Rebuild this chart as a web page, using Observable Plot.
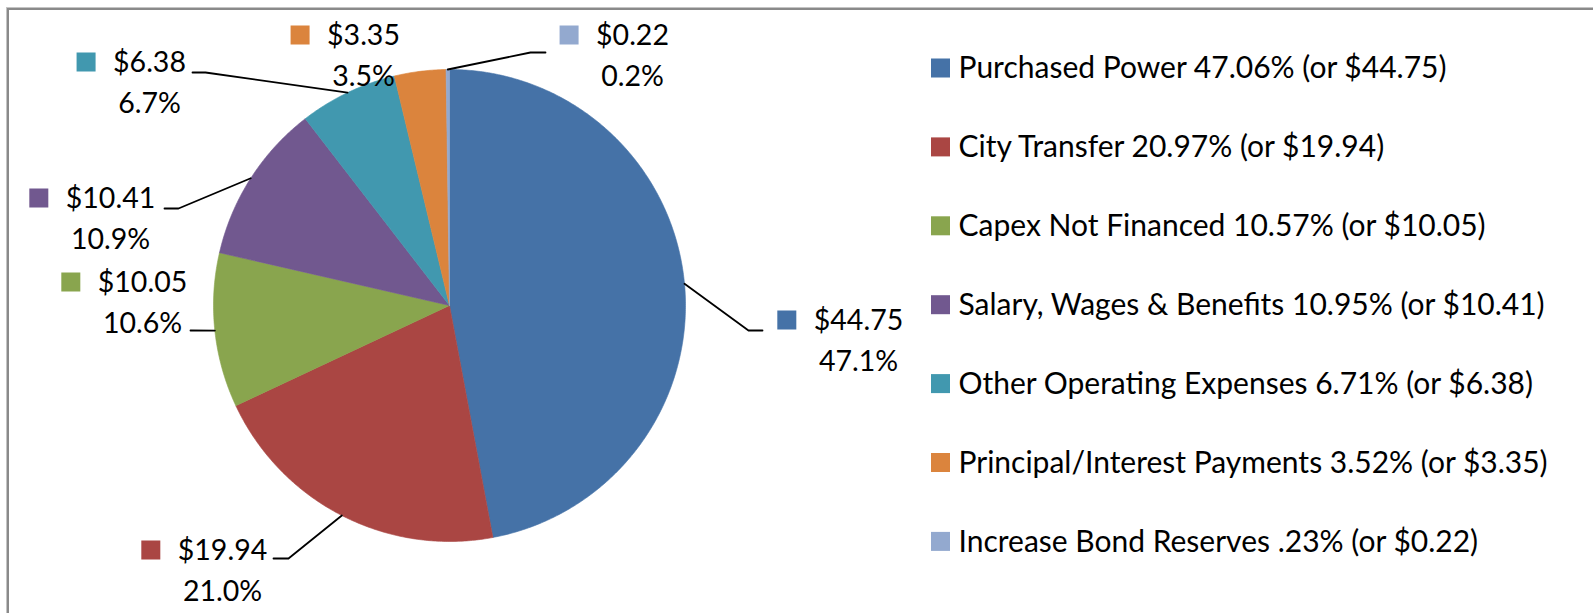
<!DOCTYPE html>
<html>
<head>
<meta charset="utf-8">
<script src="https://cdn.jsdelivr.net/npm/d3@7"></script>
<script src="https://cdn.jsdelivr.net/npm/@observablehq/plot@0.6"></script>
<style>
  html, body { margin: 0; padding: 0; background: #fff; }
  #wrap { position: relative; width: 1593px; height: 613px; overflow: hidden; }
  #frame { position: absolute; left: 7px; top: 8px; width: 1700px; height: 700px;
           border-left: 2px solid #8a8a8a; border-top: 2px solid #8a8a8a;
           box-shadow: -1px -1px 0 #c4c4c4; pointer-events: none; }
  #chart { position: absolute; left: 0; top: 0; }
</style>
</head>
<body>
<div id="wrap"><div id="chart"></div><div id="frame"></div></div>
<script>
// ---- data ----
const categories = ["Purchased Power", "City Transfer", "Capex Not Financed",
  "Salary, Wages & Benefits", "Other Operating Expenses",
  "Principal/Interest Payments", "Increase Bond Reserves"];
const values = [44.75, 19.94, 10.05, 10.41, 6.38, 3.35, 0.22];
const legendPercents = ["47.06%", "20.97%", "10.57%", "10.95%", "6.71%", "3.52%", ".23%"];
const colors = ["#4572A7", "#AA4643", "#89A54E", "#71588F", "#4198AF", "#DB843D", "#93A9CF"];

// ---- layout (not data) ----
const FONT = "Lato";
const FS = 28.5;      // data labels
const FS_LEG = 30;    // legend
const pie = {cx: 449, cy: 305, r: 236};
// label: text centre x, first-line centre y; leader elbow (bx,by) and end (ex)
const labelLayout = [
  {cx: 858, y: 320, bx: 748, by: 330, ex: 762},
  {cx: 222, y: 550, bx: 288, by: 558, ex: 273},
  {cx: 142, y: 282, bx: null, by: 330, ex: 190},
  {cx: 110, y: 198, bx: 178, by: 208, ex: 164},
  {cx: 149, y: 62,  bx: 205, by: 72,  ex: 192},
  {cx: 363, y: 35,  bx: null, by: null, ex: null},
  {cx: 632, y: 35,  bx: 530, by: 52,  ex: 545}
];
const legendX = 931, legendY0 = 68, legendStep = 78.9, sq = 19;

const total = d3.sum(values);
const fmtMoney = v => "$" + v.toFixed(2);
const fmtPct = v => (v / total * 100).toFixed(1) + "%";

// pie slices (clockwise from 12 o'clock)
const arcs = d3.pie().sort(null).startAngle(0).endAngle(2 * Math.PI)(values);
const P = a => ({x: pie.cx + pie.r * Math.sin(a), y: pie.cy - pie.r * Math.cos(a)});
const slicePts = [];
arcs.forEach((a, i) => {
  const cat = categories[i];
  slicePts.push({cat, x: pie.cx, y: pie.cy});
  const n = Math.max(2, Math.ceil((a.endAngle - a.startAngle) / (Math.PI / 360)));
  for (let k = 0; k <= n; k++) {
    const t = a.startAngle + (a.endAngle - a.startAngle) * k / n;
    slicePts.push({cat, ...P(t)});
  }
  slicePts.push({cat, x: pie.cx, y: pie.cy});
});

// leader lines
const leaderPts = [];
arcs.forEach((a, i) => {
  const L = labelLayout[i];
  if (L.ex == null) return;
  const mid = (a.startAngle + a.endAngle) / 2;
  const e = P(mid);
  leaderPts.push({cat: categories[i], x: e.x, y: e.y});
  if (L.bx != null) leaderPts.push({cat: categories[i], x: L.bx, y: L.by});
  leaderPts.push({cat: categories[i], x: L.ex, y: L.by ?? e.y});
});

// text measurement for key squares
const ctx = document.createElement("canvas").getContext("2d");
ctx.font = `${FS}px ${FONT}`;
const tw = s => ctx.measureText(s).width;

const labels = categories.map((c, i) => {
  const L = labelLayout[i];
  const t1 = fmtMoney(values[i]);
  const left = L.cx - tw(t1) / 2;
  return {cat: c, cx: L.cx, y1: L.y, y2: L.y + 41, t1, t2: fmtPct(values[i]),
          sx1: left - 36, sx2: left - 36 + sq, sy1: L.y - sq / 2, sy2: L.y + sq / 2};
});

const legend = categories.map((c, i) => {
  const y = legendY0 + legendStep * i;
  return {cat: c, y, text: `${c} ${legendPercents[i]} (or ${fmtMoney(values[i])})`,
          sx1: legendX, sx2: legendX + sq, sy1: y - sq / 2, sy2: y + sq / 2};
});

const chart = Plot.plot({
  width: 1593, height: 613,
  margin: 0,
  x: {type: "identity", axis: null},
  y: {type: "identity", axis: null},
  color: {domain: categories, range: colors},
  style: {fontFamily: FONT, background: "transparent"},
  marks: [
    Plot.line(slicePts, {x: "x", y: "y", z: "cat", fill: "cat", stroke: "cat", strokeWidth: 0.6, curve: "linear-closed"}),
    Plot.line(leaderPts, {x: "x", y: "y", z: "cat", stroke: "black", strokeWidth: 1.8}),
    Plot.rect(labels, {x1: "sx1", x2: "sx2", y1: "sy1", y2: "sy2", fill: "cat"}),
    Plot.text(labels, {x: "cx", y: "y1", text: "t1", fontSize: FS, fill: "black", textAnchor: "middle"}),
    Plot.text(labels, {x: "cx", y: "y2", text: "t2", fontSize: FS, fill: "black", textAnchor: "middle"}),
    Plot.rect(legend, {x1: "sx1", x2: "sx2", y1: "sy1", y2: "sy2", fill: "cat"}),
    Plot.text(legend, {x: legendX + sq + 8, y: "y", text: "text", fontSize: FS_LEG, fill: "black", textAnchor: "start"})
  ]
});
document.getElementById("chart").appendChild(chart);
</script>
</body>
</html>
